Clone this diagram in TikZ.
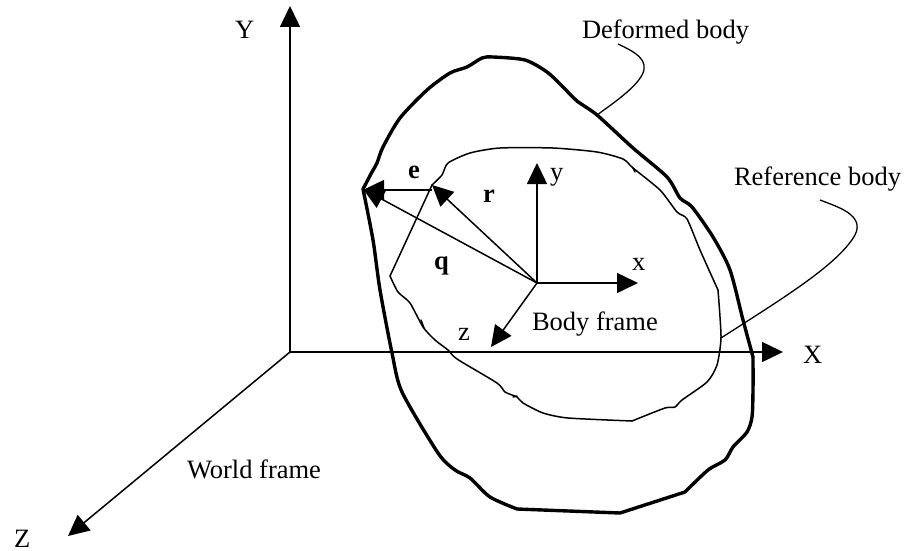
\documentclass[tikz,border=0pt]{standalone}
\usepackage{fontspec}
\setmainfont{Liberation Serif}
\usetikzlibrary{arrows.meta}
\tikzset{
  lab/.style={anchor=base west,inner sep=0pt,outer sep=0pt,font=\fontsize{26.5}{30}\selectfont},
  blab/.style={lab,font=\fontsize{26.5}{30}\selectfont\bfseries},
  axisline/.style={line width=1.5pt,-{Triangle[length=21pt,width=20pt]},shorten >=0pt},
  leader/.style={line width=1.3pt},
  thickbody/.style={line width=3.4pt,line join=round,line cap=round},
  thinbody/.style={line width=1.5pt,line join=round,line cap=round}
}
\begin{document}
\begin{tikzpicture}[x=1pt,y=-1pt]
\useasboundingbox (0,0) rectangle (907,551);
% reference points
\coordinate (O) at (290,352);
\coordinate (Xt) at (783,352);
\coordinate (Yt) at (290,6);
\coordinate (Zt) at (68,536);
\coordinate (B) at (537,283);
\coordinate (xt) at (638,283);
\coordinate (yt) at (537,163);
\coordinate (zt) at (491,347);
\coordinate (rt) at (432,185);
\coordinate (qt) at (363,189);
\coordinate (es) at (432,190);
\coordinate (et) at (363,190);
% deformed body
\draw[thickbody] plot[smooth,tension=0.45] coordinates {(363,189)(372,172)(377,163)(383,147)(400,118)(427,90)(450,73)(467,67)(482,58)(493,57)(525,60)(547,72)(563,87)(577,101)(597,115)(633,148)(667,177)(680,198)(692,207)(713,237)(730,270)(743,320)(753,357)};
\draw[thickbody] plot[smooth,tension=0.45] coordinates {(753,357)(753,390)(752,417)(747,432)(733,447)(725,460)(708,470)(685,492)};
\draw[thickbody] (685,492) -- (620,513) -- (517,509);
\draw[thickbody] plot[smooth,tension=0.45] coordinates {(517,509)(490,497)(470,478)(455,470)(438,453)(402,392)(392,353)(380,290)(373,240)(363,189)};
% reference body
\draw[thinbody] (390,276) -- (408,237) -- (432,185);
\draw[thinbody] plot[smooth,tension=0.4] coordinates {(432,185)(442,175)(448,163)(470,153)(500,148)(553,148)(597,152)(623,159)(633,168)(660,190)(677,212)(687,219)(700,250)(718,290)};
\draw[thinbody] plot[smooth,tension=0.4] coordinates {(718,290)(721,337)(717,365)(707,382)(682,400)(675,407)(665,408)(632,421)};
\draw[thinbody] plot[smooth,tension=0.4] coordinates {(632,421)(568,418)(543,413)(523,403)(517,397)(505,392)(497,383)(457,359)(448,350)(435,340)(423,327)(410,303)(398,292)(390,276)};
\draw[thinbody] (633,168) -- (635,172);
\draw[thinbody] (421,320) -- (424,328);
\draw[thinbody] (513,397) -- (517,396);
% axes
\draw[axisline] (O) -- (Xt);
\draw[axisline] (O) -- (Yt);
\draw[axisline] (O) -- (Zt);
\draw[axisline] (B) -- (xt);
\draw[axisline] (B) -- (yt);
\draw[axisline] (B) -- (zt);
\draw[axisline] (B) -- (rt);
\draw[axisline] (B) -- (qt);
\draw[axisline] (es) -- (et);
% labels
\node[lab] (lY) at (235,39) {Y};
\node[lab] (lX) at (803,363) {X};
\node[lab] (lZ) at (14,547) {Z};
\node[lab] (lWorld) at (187,478) {World frame};
\node[lab] (lBody) at (532,330) {Body frame};
\node[lab] (lx) at (632,270) {x};
\node[lab] (ly) at (550,180) {y};
\node[lab] (lz) at (458,340) {z};
\node[blab] (le) at (408,178) {e};
\node[blab] (lr) at (483,202) {r};
\node[blab] (lq) at (434,269) {q};
\node[lab] (lDef) at (582,39) {Deformed body};
\node[lab] (lRef) at (734,185) {Reference body};
% leaders
\coordinate (defS) at (618,44);
\coordinate (defE) at (597,115);
\coordinate (refS) at (820,200);
\coordinate (refE) at (721,338);
\draw[leader] (defS) .. controls (635,52) and (650,60) .. (642,75) .. controls (635,88) and (615,102) .. (defE);
\draw[leader] (refS) .. controls (838,207) and (865,215) .. (855,235) .. controls (838,265) and (780,300) .. (refE);
\end{tikzpicture}
\end{document}
